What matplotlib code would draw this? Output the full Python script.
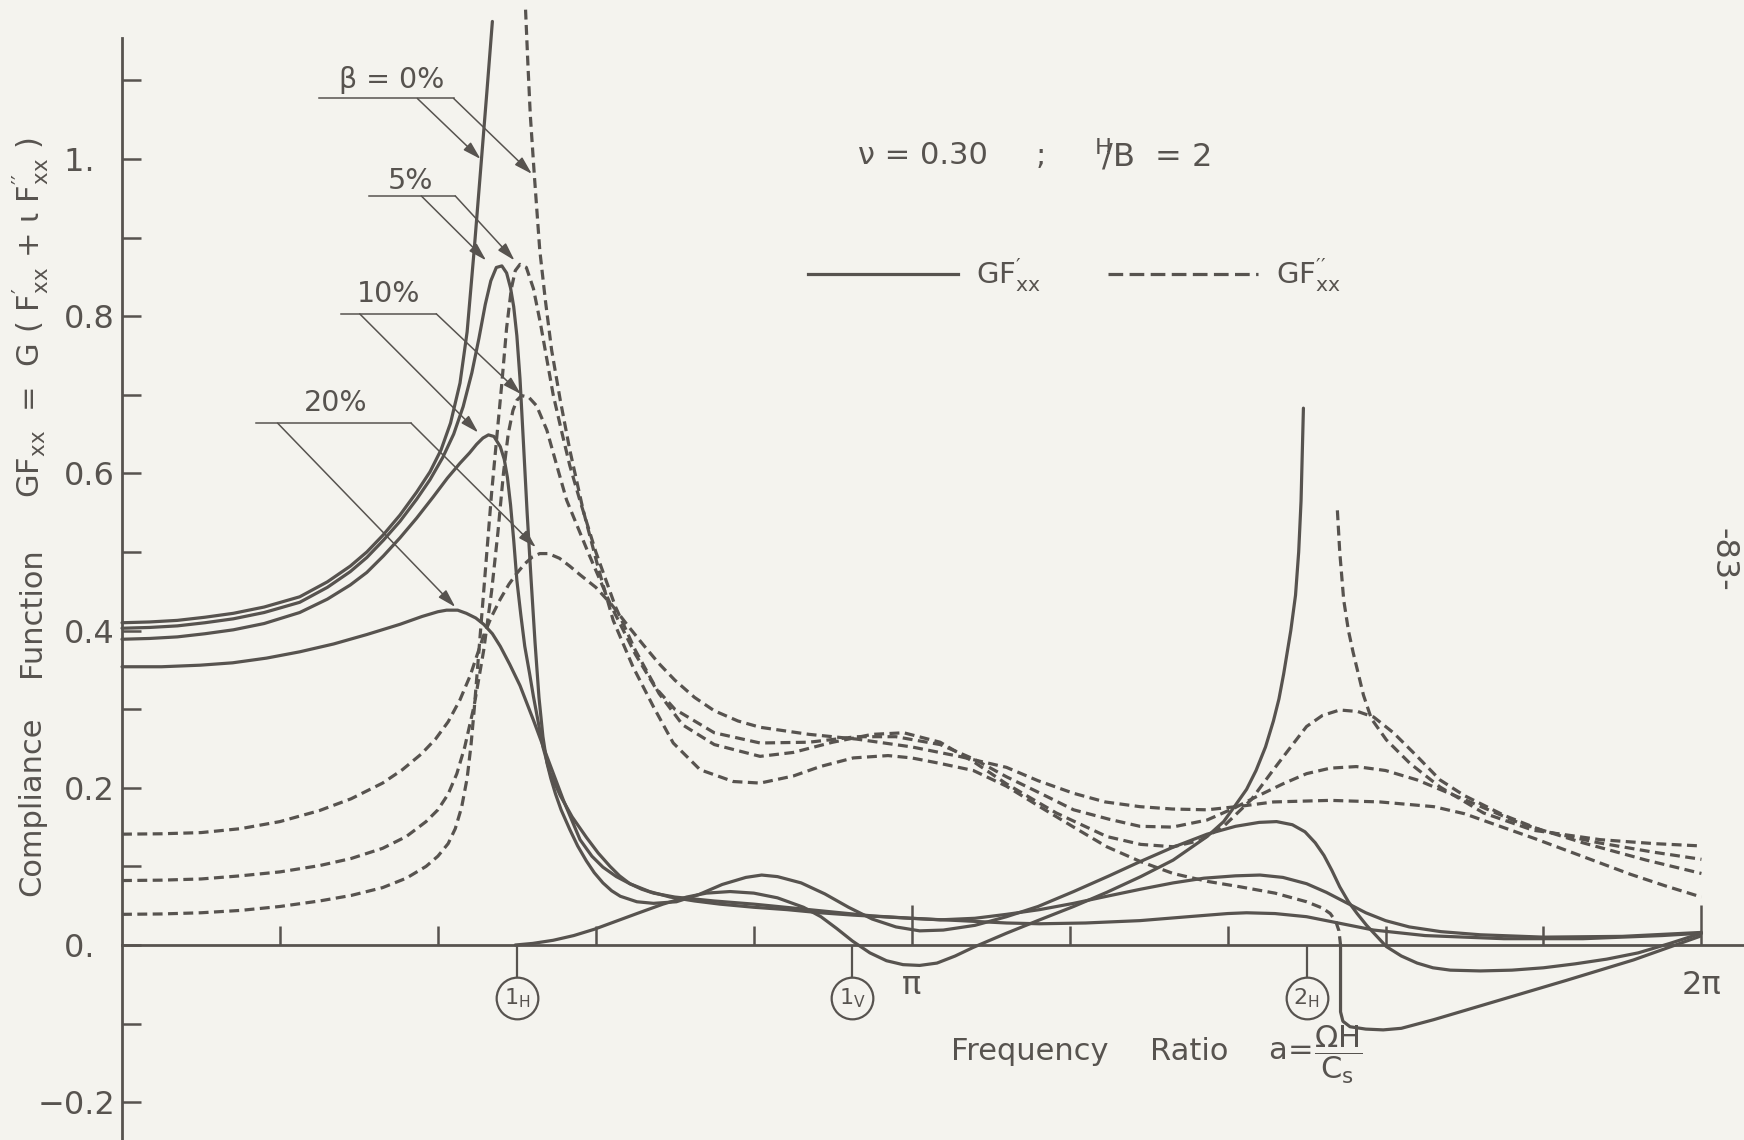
import matplotlib.pyplot as plt
import numpy as np
from matplotlib.lines import Line2D
from matplotlib.ticker import FixedFormatter, FixedLocator

plt.rcParams["font.family"] = ["DejaVu Sans"]
plt.rcParams["mathtext.fontset"] = "dejavusans"

INK = "#57534f"
PAPER = "#f4f3ee"

# (a / pi, G F_xx)
# real part, solid lines
SOLID_0_LOW = [(0.0, 0.410), (0.035, 0.411), (0.07, 0.413), (0.105, 0.417), (0.141, 0.422), (0.18, 0.430),
               (0.225, 0.443), (0.26, 0.462), (0.289, 0.482), (0.31, 0.500), (0.331, 0.522), (0.352, 0.547),
               (0.373, 0.576), (0.39, 0.602), (0.404, 0.630), (0.416, 0.664), (0.428, 0.715), (0.437, 0.780),
               (0.446, 0.885), (0.454, 0.985), (0.462, 1.085), (0.469, 1.175)]
SOLID_0_MID = [(0.498, 0.0), (0.52, 0.002), (0.546, 0.006), (0.572, 0.012), (0.598, 0.020), (0.625, 0.030),
               (0.652, 0.040), (0.685, 0.052), (0.715, 0.061), (0.740, 0.066), (0.770, 0.068), (0.800, 0.066),
               (0.830, 0.060), (0.863, 0.048), (0.885, 0.036), (0.905, 0.021), (0.925, 0.005), (0.947, -0.010),
               (0.968, -0.020), (0.989, -0.025), (1.010, -0.026), (1.032, -0.023), (1.055, -0.014),
               (1.078, -0.003), (1.12, 0.015), (1.162, 0.032), (1.205, 0.049), (1.247, 0.067), (1.29, 0.087),
               (1.331, 0.108), (1.374, 0.138), (1.395, 0.157), (1.410, 0.178), (1.424, 0.198), (1.436, 0.222),
               (1.448, 0.252), (1.458, 0.285), (1.465, 0.313), (1.471, 0.345), (1.480, 0.400), (1.486, 0.445),
               (1.490, 0.500), (1.493, 0.565), (1.496, 0.683)]
SOLID_0_HIGH = [(1.543, 0.0), (1.543, -0.085), (1.546, -0.097), (1.555, -0.104), (1.575, -0.107),
                (1.597, -0.108), (1.62, -0.106), (1.661, -0.095), (1.745, -0.070), (1.829, -0.045),
                (1.914, -0.019), (1.998, 0.011)]
SOLID_5 = [(0.0, 0.403), (0.035, 0.404), (0.07, 0.406), (0.105, 0.410), (0.141, 0.415), (0.18, 0.423),
           (0.225, 0.436), (0.26, 0.455), (0.289, 0.475), (0.31, 0.493), (0.331, 0.515), (0.352, 0.539),
           (0.373, 0.567), (0.39, 0.592), (0.406, 0.620), (0.42, 0.650), (0.432, 0.685), (0.443, 0.728),
           (0.452, 0.772), (0.460, 0.815), (0.467, 0.845), (0.474, 0.862), (0.481, 0.864), (0.487, 0.855),
           (0.492, 0.836), (0.496, 0.812), (0.500, 0.775), (0.504, 0.72), (0.508, 0.645), (0.513, 0.55),
           (0.518, 0.465), (0.523, 0.385), (0.528, 0.315), (0.533, 0.265), (0.538, 0.232), (0.543, 0.212),
           (0.549, 0.192), (0.556, 0.172), (0.567, 0.147), (0.577, 0.126), (0.588, 0.107), (0.598, 0.092),
           (0.609, 0.079), (0.620, 0.069), (0.631, 0.062), (0.652, 0.055), (0.673, 0.053), (0.702, 0.055),
           (0.73, 0.064), (0.76, 0.077), (0.79, 0.086), (0.81, 0.089), (0.83, 0.087), (0.86, 0.079),
           (0.89, 0.065), (0.92, 0.048), (0.95, 0.033), (0.98, 0.023), (1.01, 0.018), (1.04, 0.019),
           (1.08, 0.025), (1.12, 0.036), (1.16, 0.049), (1.205, 0.068), (1.25, 0.088), (1.289, 0.106),
           (1.33, 0.124), (1.374, 0.141), (1.41, 0.151), (1.44, 0.156), (1.462, 0.157), (1.482, 0.153),
           (1.498, 0.144), (1.511, 0.130), (1.522, 0.114), (1.532, 0.095), (1.542, 0.074), (1.553, 0.055),
           (1.564, 0.040), (1.576, 0.025), (1.589, 0.011), (1.601, -0.002), (1.62, -0.014), (1.64, -0.023),
           (1.66, -0.029), (1.682, -0.032), (1.72, -0.033), (1.76, -0.032), (1.80, -0.029), (1.84, -0.024),
           (1.88, -0.018), (1.92, -0.010), (1.96, 0.002), (2.0, 0.015)]
SOLID_10 = [(0.0, 0.389), (0.035, 0.390), (0.07, 0.392), (0.105, 0.396), (0.141, 0.401), (0.18, 0.409),
            (0.225, 0.423), (0.26, 0.440), (0.289, 0.458), (0.31, 0.474), (0.331, 0.495), (0.352, 0.518),
            (0.373, 0.543), (0.394, 0.570), (0.412, 0.594), (0.428, 0.613), (0.440, 0.626), (0.449, 0.637),
            (0.457, 0.645), (0.464, 0.649), (0.471, 0.647), (0.479, 0.634), (0.484, 0.618), (0.488, 0.595),
            (0.492, 0.560), (0.496, 0.515), (0.500, 0.464), (0.505, 0.420), (0.510, 0.380), (0.516, 0.346),
            (0.521, 0.316), (0.527, 0.284), (0.533, 0.252), (0.542, 0.219), (0.555, 0.190), (0.570, 0.163),
            (0.588, 0.137), (0.603, 0.117), (0.618, 0.100), (0.630, 0.088), (0.643, 0.078), (0.658, 0.071),
            (0.673, 0.066), (0.70, 0.061), (0.75, 0.056), (0.80, 0.052), (0.85, 0.047), (0.90, 0.042),
            (0.95, 0.037), (1.0, 0.034), (1.036, 0.032), (1.08, 0.034), (1.12, 0.039), (1.162, 0.045),
            (1.205, 0.053), (1.247, 0.062), (1.29, 0.071), (1.331, 0.079), (1.37, 0.085), (1.41, 0.088),
            (1.441, 0.089), (1.47, 0.086), (1.50, 0.078), (1.525, 0.067), (1.55, 0.054), (1.575, 0.041),
            (1.60, 0.031), (1.63, 0.023), (1.67, 0.017), (1.72, 0.013), (1.80, 0.010), (1.90, 0.011),
            (2.0, 0.016)]
SOLID_20 = [(0.0, 0.354), (0.05, 0.354), (0.099, 0.356), (0.14, 0.359), (0.183, 0.365), (0.225, 0.373),
            (0.268, 0.383), (0.31, 0.395), (0.352, 0.408), (0.38, 0.418), (0.40, 0.424), (0.411, 0.426),
            (0.425, 0.426), (0.436, 0.422), (0.448, 0.416), (0.458, 0.408), (0.469, 0.396), (0.479, 0.380),
            (0.491, 0.357), (0.504, 0.330), (0.521, 0.286), (0.538, 0.240), (0.559, 0.184), (0.580, 0.134),
            (0.595, 0.113), (0.609, 0.099), (0.626, 0.087), (0.643, 0.078), (0.668, 0.068), (0.694, 0.061),
            (0.725, 0.056), (0.757, 0.052), (0.80, 0.048), (0.842, 0.045), (0.884, 0.041), (0.926, 0.038),
            (0.998, 0.034), (1.061, 0.031), (1.12, 0.028), (1.162, 0.027), (1.22, 0.028), (1.289, 0.031),
            (1.35, 0.036), (1.40, 0.040), (1.424, 0.041), (1.46, 0.040), (1.50, 0.036), (1.54, 0.028),
            (1.585, 0.019), (1.65, 0.012), (1.75, 0.008), (1.85, 0.008), (1.95, 0.012), (2.0, 0.015)]

# imaginary part, dashed lines
DASHED_0_MID = [(0.511, 1.19), (0.514, 1.12), (0.517, 1.056), (0.522, 0.981), (0.529, 0.884), (0.536, 0.821),
                (0.544, 0.757), (0.555, 0.693), (0.567, 0.63), (0.584, 0.553), (0.603, 0.48), (0.622, 0.413),
                (0.647, 0.354), (0.673, 0.303), (0.698, 0.257), (0.732, 0.223), (0.774, 0.208), (0.808, 0.206),
                (0.85, 0.215), (0.884, 0.227), (0.926, 0.238), (0.97, 0.241), (1.0, 0.238), (1.036, 0.231),
                (1.078, 0.222), (1.12, 0.202), (1.162, 0.176), (1.205, 0.150), (1.247, 0.125), (1.29, 0.106),
                (1.331, 0.091), (1.374, 0.081), (1.416, 0.074), (1.46, 0.066), (1.500, 0.055), (1.520, 0.047),
                (1.530, 0.040), (1.537, 0.030), (1.541, 0.018), (1.543, 0.0)]
DASHED_0_HIGH = [(1.539, 0.553), (1.542, 0.50), (1.547, 0.439), (1.553, 0.400), (1.559, 0.372), (1.566, 0.343),
                 (1.572, 0.318), (1.582, 0.288), (1.601, 0.261), (1.631, 0.231), (1.669, 0.201), (1.724, 0.168),
                 (1.787, 0.146), (1.872, 0.134), (1.94, 0.129), (2.0, 0.126)]
DASHED_5 = [(0.0, 0.039), (0.05, 0.0395), (0.1, 0.041), (0.15, 0.044), (0.2, 0.049), (0.25, 0.056),
            (0.29, 0.063), (0.33, 0.073), (0.36, 0.085), (0.385, 0.100), (0.40, 0.113), (0.413, 0.129),
            (0.422, 0.148), (0.430, 0.175), (0.437, 0.212), (0.442, 0.255), (0.446, 0.30), (0.450, 0.350),
            (0.456, 0.425), (0.462, 0.50), (0.468, 0.575), (0.474, 0.640), (0.481, 0.715), (0.487, 0.785),
            (0.493, 0.835), (0.498, 0.858), (0.504, 0.866), (0.512, 0.862), (0.521, 0.835), (0.530, 0.790),
            (0.538, 0.745), (0.546, 0.70), (0.557, 0.652), (0.567, 0.61), (0.580, 0.565), (0.600, 0.50),
            (0.625, 0.43), (0.650, 0.375), (0.680, 0.32), (0.710, 0.28), (0.750, 0.255), (0.808, 0.240),
            (0.85, 0.245), (0.90, 0.258), (0.95, 0.268), (0.99, 0.270), (1.036, 0.258), (1.08, 0.232),
            (1.12, 0.205), (1.183, 0.168), (1.247, 0.138), (1.29, 0.128), (1.331, 0.125), (1.365, 0.133),
            (1.395, 0.151), (1.43, 0.185), (1.458, 0.223), (1.48, 0.252), (1.50, 0.278), (1.52, 0.292),
            (1.542, 0.299), (1.565, 0.297), (1.585, 0.290), (1.61, 0.27), (1.64, 0.24), (1.669, 0.21),
            (1.70, 0.19), (1.75, 0.165), (1.80, 0.145), (1.87, 0.13), (1.94, 0.118), (2.0, 0.109)]
DASHED_10 = [(0.0, 0.082), (0.05, 0.0825), (0.1, 0.084), (0.15, 0.088), (0.2, 0.093), (0.25, 0.101),
             (0.29, 0.110), (0.33, 0.123), (0.36, 0.138), (0.385, 0.157), (0.40, 0.172), (0.413, 0.192),
             (0.424, 0.218), (0.434, 0.252), (0.446, 0.305), (0.458, 0.375), (0.468, 0.450), (0.476, 0.525),
             (0.483, 0.600), (0.489, 0.650), (0.495, 0.680), (0.500, 0.693), (0.506, 0.699), (0.515, 0.697),
             (0.525, 0.686), (0.538, 0.655), (0.550, 0.612), (0.563, 0.566), (0.59, 0.50), (0.62, 0.43),
             (0.65, 0.37), (0.675, 0.328), (0.70, 0.30), (0.75, 0.27), (0.808, 0.257), (0.87, 0.258),
             (0.93, 0.265), (0.98, 0.265), (1.036, 0.255), (1.08, 0.236), (1.12, 0.214), (1.165, 0.192),
             (1.205, 0.172), (1.25, 0.160), (1.289, 0.151), (1.33, 0.150), (1.374, 0.159), (1.41, 0.175),
             (1.437, 0.189), (1.47, 0.205), (1.5, 0.218), (1.53, 0.225), (1.563, 0.227), (1.60, 0.222),
             (1.64, 0.21), (1.70, 0.185), (1.77, 0.155), (1.85, 0.13), (1.93, 0.108), (2.0, 0.091)]
DASHED_20 = [(0.0, 0.141), (0.05, 0.1415), (0.1, 0.143), (0.15, 0.148), (0.2, 0.157), (0.25, 0.171),
             (0.29, 0.186), (0.33, 0.206), (0.355, 0.223), (0.379, 0.243), (0.397, 0.262), (0.413, 0.284),
             (0.428, 0.312), (0.441, 0.343), (0.450, 0.370), (0.458, 0.394), (0.468, 0.418), (0.479, 0.440),
             (0.490, 0.459), (0.500, 0.473), (0.510, 0.485), (0.520, 0.494), (0.529, 0.498), (0.540, 0.498),
             (0.554, 0.492), (0.567, 0.482), (0.580, 0.471), (0.60, 0.455), (0.62, 0.433), (0.64, 0.407),
             (0.66, 0.382), (0.68, 0.358), (0.70, 0.337), (0.725, 0.315), (0.75, 0.298), (0.78, 0.285),
             (0.808, 0.277), (0.87, 0.268), (0.93, 0.262), (1.0, 0.252), (1.06, 0.240), (1.12, 0.226),
             (1.16, 0.209), (1.205, 0.193), (1.245, 0.182), (1.289, 0.176), (1.33, 0.173), (1.374, 0.172),
             (1.42, 0.177), (1.458, 0.182), (1.53, 0.184), (1.593, 0.182), (1.661, 0.176), (1.70, 0.167),
             (1.745, 0.151), (1.79, 0.135), (1.83, 0.12), (1.87, 0.105), (1.91, 0.09), (1.955, 0.075),
             (2.0, 0.061)]

SOLID_CURVES = [SOLID_0_LOW, SOLID_0_MID, SOLID_0_HIGH, SOLID_5, SOLID_10, SOLID_20]
DASHED_CURVES = [DASHED_0_MID, DASHED_0_HIGH, DASHED_5, DASHED_10, DASHED_20]

# layer resonances (a / pi) marked under the axis
RESONANCES = [0.5, 0.925, 1.5]
RESONANCE_LABELS = [r"$\mathregular{1_H}$", r"$\mathregular{1_V}$", r"$\mathregular{2_H}$"]

Y_TICKS = [-0.2, -0.1, 0.0, 0.1, 0.2, 0.3, 0.4, 0.5, 0.6, 0.7, 0.8, 0.9, 1.0, 1.1]
Y_TICK_LABELS = ["\u22120.2", "", "0.\u2007", "", "0.2", "", "0.4", "", "0.6", "", "0.8", "", "1.\u2007", ""]
X_MAJOR = [1.0, 2.0]
X_MAJOR_LABELS = ["\u03c0", "2\u03c0"]
X_MINOR = [0.2, 0.4, 0.6, 0.8, 1.2, 1.4, 1.6, 1.8]

# damping labels: text, text pos, leader (x0, x1, y), two arrows (start, tip)
BETA_NOTES = [
    ("\u03b2 = 0%", (0.342, 1.100), (0.250, 0.420, 1.077), [((0.374, 1.077), (0.454, 1.000)),
                                                          ((0.420, 1.077), (0.519, 0.981))]),
    ("5%", (0.365, 0.972), (0.313, 0.422, 0.953), [((0.379, 0.953), (0.461, 0.871)),
                                                  ((0.422, 0.953), (0.497, 0.871))]),
    ("10%", (0.337, 0.828), (0.277, 0.398, 0.803), [((0.301, 0.803), (0.451, 0.652)),
                                                   ((0.398, 0.803), (0.505, 0.701))]),
    ("20%", (0.271, 0.690), (0.170, 0.366, 0.664), [((0.197, 0.664), (0.422, 0.430)),
                                                   ((0.366, 0.664), (0.524, 0.506))]),
]

W, H = 1744, 1140
DASH = (3.1, 1.7)


def xy(points):
    arr = np.array(points, dtype=float)
    return arr[:, 0], arr[:, 1]


def fx(px):
    return px / W


def fy(py):
    return 1 - py / H


fig = plt.figure(figsize=(W / 100, H / 100), dpi=100)
fig.patch.set_facecolor(PAPER)
ax = fig.add_axes([0, 0, 1, 1])
ax.set_facecolor(PAPER)
ax.set_xlim(-0.1545, 2.0539)
ax.set_ylim(-0.2481, 1.2023)

for name in ("top", "right"):
    ax.spines[name].set_visible(False)
ax.spines["left"].set_position(("data", 0))
ax.spines["bottom"].set_position(("data", 0))
ax.spines["left"].set_bounds(-0.2481, 1.154)
ax.spines["bottom"].set_bounds(0, 2.0539)
for name in ("left", "bottom"):
    ax.spines[name].set_linewidth(2.0)
    ax.spines[name].set_color(INK)

ax.yaxis.set_major_locator(FixedLocator(Y_TICKS))
ax.yaxis.set_major_formatter(FixedFormatter(Y_TICK_LABELS))
ax.xaxis.set_major_locator(FixedLocator(X_MAJOR))
ax.xaxis.set_major_formatter(FixedFormatter(X_MAJOR_LABELS))
ax.xaxis.set_minor_locator(FixedLocator(X_MINOR))
ax.tick_params(axis="y", direction="in", length=13.5, width=1.8, color=INK, pad=5,
               labelsize=23, labelcolor=INK)
ax.tick_params(axis="x", which="major", direction="in", length=29, width=1.8, color=INK, pad=18,
               labelsize=23, labelcolor=INK)
ax.tick_params(axis="x", which="minor", direction="in", length=14, width=1.8, color=INK)

for pts in SOLID_CURVES:
    x, y = xy(pts)
    ax.plot(x, y, color=INK, lw=2.3, solid_joinstyle="round", solid_capstyle="round")
for pts in DASHED_CURVES:
    x, y = xy(pts)
    ax.plot(x, y, color=INK, lw=2.3, dashes=DASH)

# circled resonance markers below the axis
ax.vlines(RESONANCES, -0.041, 0, color=INK, lw=1.6)
ax.plot(RESONANCES, [-0.0674] * len(RESONANCES), "o", ms=30, mfc="none", mec=INK, mew=1.6, clip_on=False)
for r, lab in zip(RESONANCES, RESONANCE_LABELS):
    ax.text(r, -0.0674, lab, ha="center", va="center", fontsize=16, color=INK)

# damping leaders
for text, (tx, ty), (x0, x1, ly), arrows in BETA_NOTES:
    ax.text(tx, ty, text, ha="center", va="center", fontsize=20.5, color=INK)
    ax.plot([x0, x1], [ly, ly], color=INK, lw=1.1)
    for start, tip in arrows:
        ax.annotate("", xy=tip, xytext=start,
                    arrowprops=dict(arrowstyle="-|>,head_length=0.55,head_width=0.16", color=INK, lw=1.1,
                                    shrinkA=0, shrinkB=0, mutation_scale=20))

# legend
handles = [Line2D([], [], color=INK, lw=2.3), Line2D([], [], color=INK, lw=2.3, dashes=(4.6, 2.0))]
labels = [r"$\mathregular{GF^{\prime}_{xx}}$", r"$\mathregular{GF^{\prime\prime}_{xx}}$"]
leg = fig.legend(handles, labels, loc="center left", bbox_to_anchor=(fx(808), fy(275)), ncol=2,
                 frameon=False, fontsize=21, handlelength=5.15, handletextpad=0.6, columnspacing=2.3,
                 borderpad=0, borderaxespad=0)
for t in leg.get_texts():
    t.set_color(INK)

fig.text(fx(858), fy(156), "\u03bd = 0.30", ha="left", va="center", fontsize=22, color=INK)
fig.text(fx(1036), fy(156), ";", ha="left", va="center", fontsize=22, color=INK)
fig.text(fx(1094), fy(156), r"${}^{\mathregular{H}}\!\!/\mathregular{B}$  = 2", ha="left", va="center",
         fontsize=23, color=INK)

# y label, split the way it is lettered on the sheet
ylab_kw = dict(rotation=90, rotation_mode="anchor", ha="center", va="baseline", fontsize=22, color=INK)
fig.text(fx(40), fy(806), "Compliance", **ylab_kw)
fig.text(fx(40), fy(612), "Function", **ylab_kw)
fig.text(fx(40), fy(318),
         r"$\mathregular{GF_{xx}}$  =  G ( $\mathregular{F^{\prime}_{xx}}$ + " + "\u03b9"
         + r" $\mathregular{F^{\prime\prime}_{xx}}$ )", **ylab_kw)

xlab_kw = dict(ha="left", va="baseline", fontsize=22, color=INK)
fig.text(fx(951), fy(1060), "Frequency", **xlab_kw)
fig.text(fx(1150), fy(1060), "Ratio", **xlab_kw)
fig.text(fx(1268), fy(1060),
         r"$\mathregular{a}\!=\!\dfrac{\mathregular{\Omega H}}{\mathregular{C_s}}$", **xlab_kw)

fig.text(fx(1723), fy(560), "-83-", rotation=-90, ha="center", va="center", fontsize=23, color=INK)

fig.savefig("out.png", dpi=100, facecolor=PAPER)
